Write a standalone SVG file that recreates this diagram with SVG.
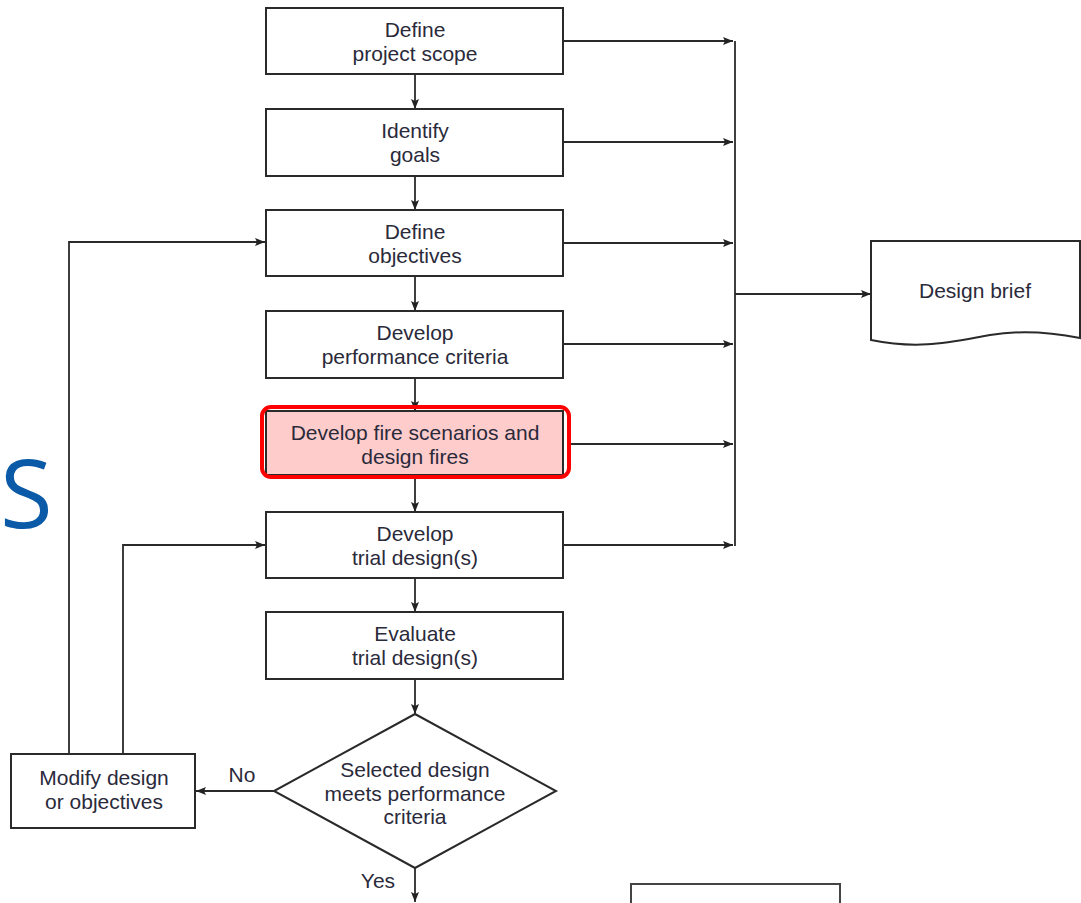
<svg xmlns="http://www.w3.org/2000/svg" width="1081" height="903" viewBox="0 0 1081 903">
<defs>
<marker id="ah" viewBox="0 0 10 8" refX="10" refY="4" markerWidth="10" markerHeight="8" markerUnits="userSpaceOnUse" orient="auto">
<path d="M0,0 L10,4 L0,8 L2,4 Z" fill="#222"/>
</marker>
</defs>
<style>
.box{fill:#fff;stroke:#2a2a2a;stroke-width:2}
.t{font-family:"Liberation Sans",Arial,sans-serif;font-size:21px;fill:#2a2a3a;text-anchor:middle}
.c{fill:none;stroke:#2a2a2a;stroke-width:1.8}
.ca{fill:none;stroke:#2a2a2a;stroke-width:1.8;marker-end:url(#ah)}
</style>
<rect width="1081" height="903" fill="#fff"/>
<text x="0" y="528" font-family="'Open Sans',Calibri,sans-serif" font-size="96" fill="#0a5aa8">S</text>

<g id="connectors">
<line class="ca" x1="415" y1="74" x2="415" y2="109"/>
<line class="ca" x1="415" y1="176" x2="415" y2="210"/>
<line class="ca" x1="415" y1="276" x2="415" y2="311"/>
<line class="ca" x1="415" y1="378" x2="415" y2="411"/>
<line class="ca" x1="415" y1="476" x2="415" y2="512"/>
<line class="ca" x1="415" y1="578" x2="415" y2="612"/>
<line class="ca" x1="415" y1="679" x2="415" y2="714"/>
<line class="ca" x1="415" y1="868" x2="415" y2="902"/>
<line class="ca" x1="563" y1="41" x2="733" y2="41"/>
<line class="ca" x1="563" y1="142" x2="733" y2="142"/>
<line class="ca" x1="563" y1="243" x2="733" y2="243"/>
<line class="ca" x1="563" y1="344" x2="733" y2="344"/>
<line class="ca" x1="568" y1="444" x2="733" y2="444"/>
<line class="ca" x1="563" y1="545" x2="733" y2="545"/>
<line class="c" x1="735" y1="41" x2="735" y2="546"/>
<line class="ca" x1="735" y1="294" x2="871" y2="294"/>
<line class="ca" x1="274" y1="791" x2="196" y2="791"/>
<polyline class="ca" points="69,754 69,242 265,242"/>
<polyline class="ca" points="123,754 123,545 265,545"/>
</g>

<g id="n1"><rect class="box" x="266" y="8" width="297" height="66"/><text class="t" x="415" y="37">Define</text><text class="t" x="415" y="61">project scope</text></g>
<g id="n2"><rect class="box" x="266" y="109" width="297" height="67"/><text class="t" x="415" y="138">Identify</text><text class="t" x="415" y="162">goals</text></g>
<g id="n3"><rect class="box" x="266" y="210" width="297" height="66"/><text class="t" x="415" y="239">Define</text><text class="t" x="415" y="263">objectives</text></g>
<g id="n4"><rect class="box" x="266" y="311" width="297" height="67"/><text class="t" x="415" y="340">Develop</text><text class="t" x="415" y="364">performance criteria</text></g>
<g id="n5"><rect x="266" y="411" width="297" height="64" fill="#ffcccc" stroke="#2a2a2a" stroke-width="2"/><rect x="262" y="407" width="307" height="70" rx="9" fill="none" stroke="#ff0000" stroke-width="4"/><text class="t" x="415" y="440">Develop fire scenarios and</text><text class="t" x="415" y="464">design fires</text></g>
<g id="n6"><rect class="box" x="266" y="512" width="297" height="66"/><text class="t" x="415" y="541">Develop</text><text class="t" x="415" y="565">trial design(s)</text></g>
<g id="n7"><rect class="box" x="266" y="612" width="297" height="67"/><text class="t" x="415" y="641">Evaluate</text><text class="t" x="415" y="665">trial design(s)</text></g>
<g id="n8"><polygon class="box" points="415,714 556,791 415,868 274,791"/><text class="t" x="415" y="777">Selected design</text><text class="t" x="415" y="801">meets performance</text><text class="t" x="415" y="824">criteria</text></g>
<g id="n9"><rect class="box" x="11" y="754" width="184" height="74"/><text class="t" x="104" y="785">Modify design</text><text class="t" x="104" y="809">or objectives</text></g>
<g id="n10"><path class="box" d="M871,241 L1080,241 L1080,338 C1050,332 1020,330 990,335 C950,342 920,350 871,340 Z"/><text class="t" x="975" y="298">Design brief</text></g>
<g id="n11"><path d="M631,903 L631,884 L840,884 L840,903" fill="#fff" stroke="#444" stroke-width="2"/></g>
<text class="t" x="242" y="782">No</text>
<text class="t" x="378" y="888">Yes</text>
</svg>
